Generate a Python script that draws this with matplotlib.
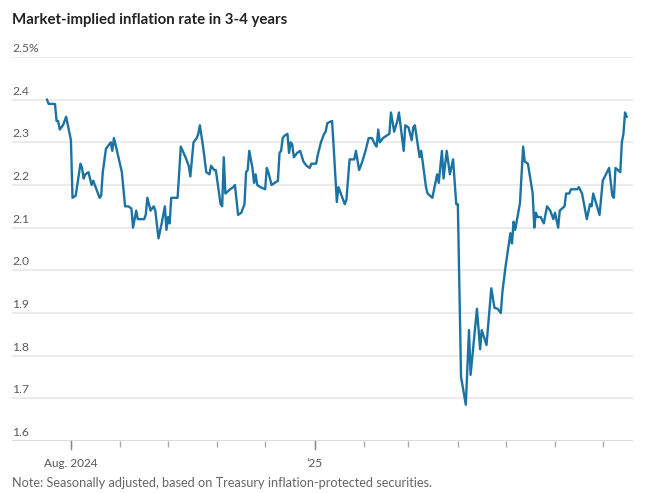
import matplotlib
matplotlib.use("Agg")
import matplotlib.pyplot as plt
import matplotlib.dates as mdates
import matplotlib.transforms as mtransforms
import pandas as pd

title = "Market-implied inflation rate in 3-4 years"
note = "Note: Seasonally adjusted, based on Treasury inflation-protected securities."

dates = [
    "2024-07-17", "2024-07-18", "2024-07-22", "2024-07-23", "2024-07-24", "2024-07-25", "2024-07-27", "2024-07-29",
    "2024-08-01", "2024-08-02", "2024-08-04", "2024-08-07", "2024-08-08", "2024-08-09", "2024-08-10", "2024-08-12",
    "2024-08-14", "2024-08-15", "2024-08-19", "2024-08-20", "2024-08-21", "2024-08-23", "2024-08-25", "2024-08-26",
    "2024-08-27", "2024-08-28", "2024-08-29", "2024-09-02", "2024-09-04", "2024-09-06", "2024-09-08", "2024-09-09",
    "2024-09-11", "2024-09-12", "2024-09-16", "2024-09-17", "2024-09-18", "2024-09-20", "2024-09-22", "2024-09-23",
    "2024-09-25", "2024-09-27", "2024-09-29", "2024-09-30", "2024-10-01", "2024-10-02", "2024-10-03", "2024-10-07",
    "2024-10-09", "2024-10-12", "2024-10-14", "2024-10-15", "2024-10-17", "2024-10-19", "2024-10-20", "2024-10-21",
    "2024-10-23", "2024-10-25", "2024-10-27", "2024-10-28", "2024-10-30", "2024-10-31", "2024-11-03", "2024-11-04",
    "2024-11-05", "2024-11-06", "2024-11-09", "2024-11-11", "2024-11-12", "2024-11-14", "2024-11-16", "2024-11-18",
    "2024-11-19", "2024-11-20", "2024-11-21", "2024-11-23", "2024-11-24", "2024-11-25", "2024-11-26", "2024-11-28",
    "2024-12-01", "2024-12-02", "2024-12-03", "2024-12-05", "2024-12-07", "2024-12-09", "2024-12-10", "2024-12-11",
    "2024-12-12", "2024-12-13", "2024-12-15", "2024-12-16", "2024-12-17", "2024-12-18", "2024-12-19", "2024-12-21",
    "2024-12-23", "2024-12-25", "2024-12-27", "2024-12-29", "2024-12-30", "2025-01-02", "2025-01-03", "2025-01-05",
    "2025-01-07", "2025-01-08", "2025-01-09", "2025-01-12", "2025-01-13", "2025-01-15", "2025-01-16", "2025-01-17",
    "2025-01-20", "2025-01-21", "2025-01-23", "2025-01-26", "2025-01-27", "2025-01-29", "2025-01-31", "2025-02-02",
    "2025-02-04", "2025-02-06", "2025-02-08", "2025-02-09", "2025-02-10", "2025-02-11", "2025-02-13", "2025-02-17",
    "2025-02-18", "2025-02-20", "2025-02-22", "2025-02-23", "2025-02-24", "2025-02-26", "2025-02-27", "2025-03-01",
    "2025-03-03", "2025-03-04", "2025-03-05", "2025-03-08", "2025-03-09", "2025-03-12", "2025-03-13", "2025-03-16",
    "2025-03-19", "2025-03-20", "2025-03-22", "2025-03-23", "2025-03-25", "2025-03-27", "2025-03-29", "2025-03-31",
    "2025-04-01", "2025-04-03", "2025-04-06", "2025-04-08", "2025-04-09", "2025-04-13", "2025-04-15", "2025-04-16",
    "2025-04-19", "2025-04-21", "2025-04-22", "2025-04-24", "2025-04-26", "2025-04-28", "2025-04-29", "2025-05-01",
    "2025-05-04", "2025-05-05", "2025-05-06", "2025-05-07", "2025-05-10", "2025-05-12", "2025-05-13", "2025-05-15",
    "2025-05-18", "2025-05-19", "2025-05-20", "2025-05-21", "2025-05-23", "2025-05-25", "2025-05-27", "2025-05-29",
    "2025-05-31", "2025-06-01", "2025-06-03", "2025-06-04", "2025-06-07", "2025-06-08", "2025-06-10", "2025-06-11",
    "2025-06-15", "2025-06-16", "2025-06-18", "2025-06-21", "2025-06-23", "2025-06-24", "2025-06-25", "2025-06-29",
    "2025-07-01", "2025-07-05", "2025-07-07", "2025-07-08", "2025-07-09", "2025-07-12", "2025-07-13", "2025-07-14",
    "2025-07-15", "2025-07-16",
]

rate = [
    2.40, 2.39, 2.39, 2.35, 2.35, 2.33, 2.34, 2.36,
    2.305, 2.17, 2.175, 2.25, 2.24, 2.215, 2.225, 2.23,
    2.20, 2.21, 2.17, 2.175, 2.23, 2.285, 2.295, 2.30,
    2.28, 2.31, 2.295, 2.23, 2.15, 2.15, 2.145, 2.10,
    2.14, 2.12, 2.12, 2.13, 2.17, 2.14, 2.15, 2.14,
    2.075, 2.11, 2.15, 2.095, 2.125, 2.11, 2.17, 2.17,
    2.29, 2.265, 2.245, 2.22, 2.30, 2.31, 2.32, 2.34,
    2.29, 2.23, 2.225, 2.245, 2.235, 2.235, 2.155, 2.15,
    2.265, 2.18, 2.19, 2.195, 2.20, 2.13, 2.135, 2.155,
    2.23, 2.235, 2.28, 2.24, 2.205, 2.225, 2.20, 2.195,
    2.19, 2.24, 2.23, 2.20, 2.205, 2.21, 2.275, 2.28,
    2.31, 2.315, 2.32, 2.275, 2.30, 2.295, 2.265, 2.275,
    2.28, 2.255, 2.245, 2.24, 2.25, 2.25, 2.27, 2.30,
    2.32, 2.325, 2.345, 2.35, 2.29, 2.16, 2.195, 2.185,
    2.155, 2.165, 2.26, 2.26, 2.28, 2.235, 2.255, 2.28,
    2.31, 2.31, 2.295, 2.29, 2.33, 2.30, 2.31, 2.32,
    2.37, 2.325, 2.35, 2.37, 2.34, 2.28, 2.34, 2.335,
    2.305, 2.335, 2.34, 2.265, 2.28, 2.195, 2.18, 2.17,
    2.225, 2.205, 2.28, 2.215, 2.28, 2.225, 2.26, 2.155,
    2.155, 1.75, 1.685, 1.86, 1.755, 1.91, 1.815, 1.86,
    1.825, 1.915, 1.958, 1.912, 1.91, 1.90, 1.95, 2.01,
    2.087, 2.063, 2.114, 2.095, 2.157, 2.29, 2.255, 2.25,
    2.18, 2.10, 2.135, 2.125, 2.125, 2.11, 2.15, 2.14,
    2.12, 2.135, 2.10, 2.14, 2.15, 2.18, 2.18, 2.19,
    2.19, 2.195, 2.18, 2.12, 2.155, 2.15, 2.18, 2.13,
    2.21, 2.24, 2.175, 2.17, 2.24, 2.23, 2.30, 2.32,
    2.37, 2.36,
]

y_ticks = [2.5, 2.4, 2.3, 2.2, 2.1, 2.0, 1.9, 1.8, 1.7, 1.6]
y_labels = ["2.5%", "2.4", "2.3", "2.2", "2.1", "2.0", "1.9", "1.8", "1.7", "1.6"]
month_ticks = ["2024-08-01", "2024-09-01", "2024-10-01", "2024-11-01", "2024-12-01", "2025-01-01",
               "2025-02-01", "2025-03-01", "2025-04-01", "2025-05-01", "2025-06-01", "2025-07-01"]
major_ticks = ["2024-08-01", "2025-01-01"]
major_labels = ["Aug. 2024", "\u201925"]
x_range = ["2024-06-25", "2025-07-20"]

plt.rcParams['font.family'] = ['Lato', 'DejaVu Sans']

W, H = 647, 493
fig = plt.figure(figsize=(W / 100, H / 100), dpi=100)
fig.patch.set_facecolor('white')
ax = fig.add_axes([12 / W, 1 - 441 / H, (633 - 12) / W, (441 - 57) / H])
ax.set_facecolor('white')

d = pd.to_datetime(dates)
ax.set_xlim(pd.to_datetime(x_range[0]), pd.to_datetime(x_range[1]))
ax.set_ylim(y_ticks[-1], y_ticks[0])

for yv in y_ticks[:-1]:
    ax.axhline(yv, color='#e8e8e8', lw=1.2, zorder=1)
ax.axhline(y_ticks[-1], color='#d6d6d6', lw=1.2, zorder=1)

ax.plot(d, rate, color='#1c73a2', lw=1.7, zorder=3, solid_joinstyle='round')

for s in ax.spines.values():
    s.set_visible(False)
ax.set_yticks([])

ax.set_xticks(pd.to_datetime(month_ticks))
ax.set_xticklabels([])
ax.tick_params(axis='x', length=4, width=1, color='#aaaaaa', direction='out', pad=0)

trans = mtransforms.blended_transform_factory(ax.transAxes, ax.transData)
offset = mtransforms.ScaledTranslation(0, 3 / 100, fig.dpi_scale_trans)
for yv, lab in zip(y_ticks, y_labels):
    ax.text(0, yv, lab, transform=trans + offset, ha='left', va='bottom',
            fontsize=8.7, color='#5a5a5a')

tx = mtransforms.blended_transform_factory(ax.transData, ax.transAxes)
for mt, ml in zip(major_ticks, major_labels):
    xv = mdates.date2num(pd.to_datetime(mt))
    ax.plot([xv, xv], [0, -0.022], transform=tx, color='#888888', lw=1, clip_on=False)
    ax.text(xv, -0.045, ml, transform=tx, ha='center', va='top', fontsize=8.5, color='#555555')

fig.text(12 / W, 1 - 20 / H, title, ha='left', va='center', fontsize=10.8,
         fontweight='bold', color='#222222')
fig.text(12 / W, 1 - 483 / H, note, ha='left', va='center', fontsize=9.2, color='#666666')

fig.savefig('out.png', dpi=100, facecolor='white')
